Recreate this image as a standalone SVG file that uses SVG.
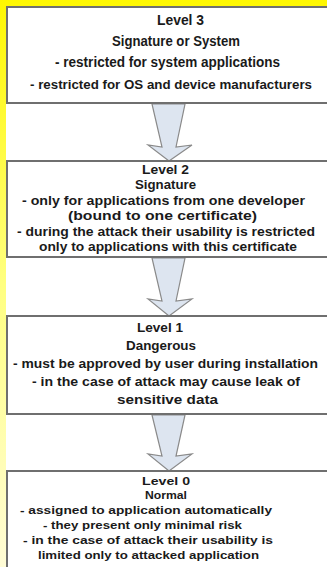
<svg xmlns="http://www.w3.org/2000/svg" width="327" height="567" viewBox="0 0 327 567">
  <defs>
    <linearGradient id="slideBg" x1="0" y1="0" x2="0" y2="1">
      <stop offset="0" stop-color="#fff700"/>
      <stop offset="0.5" stop-color="#ffff80"/>
      <stop offset="1" stop-color="#fffcd6"/>
    </linearGradient>
    <style>
      .box { fill: #ffffff; stroke: #6f6f6f; stroke-width: 2; }
      .arrow { fill: #dde5f0; stroke: #8a8a8a; stroke-width: 1.2; stroke-linejoin: miter; }
      text { font-family: "Liberation Sans", Arial, sans-serif; font-weight: bold; fill: #1a1a1a; }
      .t3 { font-size: 14.5px; }
      .t3s { font-size: 13px; }
      .t2 { font-size: 12px; }
      .t1 { font-size: 13.5px; }
      .t0 { font-size: 11.5px; }
    </style>
  </defs>

  <!-- slide background and white page -->
  <rect x="0" y="0" width="327" height="567" fill="url(#slideBg)"/>
  <rect x="6" y="6" width="330" height="570" fill="#ffffff"/>

  <!-- connectors: block arrows between levels -->
  <g id="connectors">
    <path class="arrow" d="M152,104 L185,104 L176,147 L192,145 L169,161 L148,145 L162,147 Z"/>
    <path class="arrow" d="M152,258 L185,258 L176,301 L192,299 L169,316 L148,299 L162,301 Z"/>
    <path class="arrow" d="M152,415 L185,415 L176,456 L192,454 L169,471 L148,454 L162,456 Z"/>
  </g>

  <g id="level3">
    <rect class="box" x="7" y="7" width="330" height="96"/>
    <text class="t3" x="157" y="25" textLength="47" lengthAdjust="spacingAndGlyphs">Level 3</text>
    <text class="t3" x="112" y="46" textLength="128" lengthAdjust="spacingAndGlyphs">Signature or System</text>
    <text class="t3" x="55" y="67" textLength="225" lengthAdjust="spacingAndGlyphs">- restricted for system applications</text>
    <text class="t3s" x="30" y="89" textLength="282" lengthAdjust="spacingAndGlyphs">- restricted for OS and device manufacturers</text>
  </g>

  <g id="level2">
    <rect class="box" x="7" y="161" width="330" height="96"/>
    <text class="t2" x="142" y="174" textLength="47" lengthAdjust="spacingAndGlyphs">Level 2</text>
    <text class="t2" x="135" y="189" textLength="61" lengthAdjust="spacingAndGlyphs">Signature</text>
    <text class="t2" x="22" y="205" textLength="283" lengthAdjust="spacingAndGlyphs">- only for applications from one developer</text>
    <text class="t2" x="68" y="220" textLength="189" lengthAdjust="spacingAndGlyphs">(bound to one certificate)</text>
    <text class="t2" x="17" y="236" textLength="298" lengthAdjust="spacingAndGlyphs">- during the attack their usability is restricted</text>
    <text class="t2" x="39" y="251" textLength="258" lengthAdjust="spacingAndGlyphs">only to applications with this certificate</text>
  </g>

  <g id="level1">
    <rect class="box" x="7" y="316" width="330" height="98"/>
    <text class="t1" x="137" y="332" textLength="46" lengthAdjust="spacingAndGlyphs">Level 1</text>
    <text class="t1" x="126" y="350" textLength="70" lengthAdjust="spacingAndGlyphs">Dangerous</text>
    <text class="t1" x="13" y="368" textLength="305" lengthAdjust="spacingAndGlyphs">- must be approved by user during installation</text>
    <text class="t1" x="32" y="386" textLength="268" lengthAdjust="spacingAndGlyphs">- in the case of attack may cause leak of</text>
    <text class="t1" x="117" y="404" textLength="101" lengthAdjust="spacingAndGlyphs">sensitive data</text>
  </g>

  <g id="level0">
    <rect class="box" x="7" y="471" width="330" height="110"/>
    <text class="t0" x="142" y="485" textLength="48" lengthAdjust="spacingAndGlyphs">Level 0</text>
    <text class="t0" x="145" y="499" textLength="42" lengthAdjust="spacingAndGlyphs">Normal</text>
    <text class="t0" x="20" y="514" textLength="252" lengthAdjust="spacingAndGlyphs">- assigned to application automatically</text>
    <text class="t0" x="43" y="529" textLength="199" lengthAdjust="spacingAndGlyphs">- they present only minimal risk</text>
    <text class="t0" x="23" y="544" textLength="250" lengthAdjust="spacingAndGlyphs">- in the case of attack their usability is</text>
    <text class="t0" x="38" y="559" textLength="221" lengthAdjust="spacingAndGlyphs">limited only to attacked application</text>
  </g>
</svg>
